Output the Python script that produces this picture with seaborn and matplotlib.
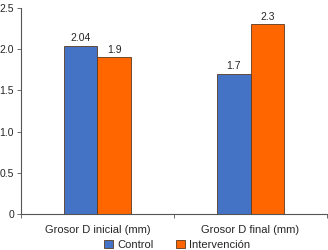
import matplotlib
matplotlib.use('Agg')
import matplotlib.pyplot as plt
import pandas as pd
import seaborn as sns

categories = ['Grosor D inicial (mm)', 'Grosor D final (mm)']
groups = ['Control', 'Intervención']
control = [2.04, 1.7]
intervencion = [1.9, 2.3]
value_labels = [['2.04', '1.7'], ['1.9', '2.3']]
yticks = [0, 0.5, 1.0, 1.5, 2.0, 2.5]
ytick_labels = ['0', '0.5', '1.0', '1.5', '2.0', '2.5']

df = pd.DataFrame({
    'categoria': categories * 2,
    'grupo': [groups[0]] * 2 + [groups[1]] * 2,
    'valor': control + intervencion,
})

sns.set_style('white')
plt.rcParams['font.family'] = ['Liberation Sans', 'DejaVu Sans']

fig = plt.figure(figsize=(3.28, 2.5), dpi=100)
ax = fig.add_axes([0.064, 0.144, 0.933, 0.824])

sns.barplot(data=df, x='categoria', y='valor', hue='grupo',
            palette=['#4472C4', '#FF6600'], width=0.44, saturation=1,
            edgecolor='#5a3a20', linewidth=0.6, ax=ax)

for cont, labels in zip(ax.containers, value_labels):
    ax.bar_label(cont, labels=labels, padding=2, fontsize=7.5)

ax.set_xlim(-0.5, 1.5)
ax.set_ylim(0, 2.5)
ax.set_yticks(yticks)
ax.set_yticklabels(ytick_labels, fontsize=7.5)
ax.set_xticks([0, 1])
ax.set_xticklabels(categories, fontsize=8)
ax.set_xlabel('')
ax.set_ylabel('')
ax.tick_params(axis='x', length=0, pad=8)
ax.tick_params(axis='y', length=3, width=0.6, color='#555555', pad=2, left=True)
# category separators on x axis
ax.set_xticks([-0.5, 0.5, 1.5], minor=True)
ax.tick_params(axis='x', which='minor', length=3, width=0.6, color='#555555', bottom=True)

for s in ['top', 'right']:
    ax.spines[s].set_visible(False)
for s in ['left', 'bottom']:
    ax.spines[s].set_linewidth(0.8)
    ax.spines[s].set_color('#555555')

ax.legend(loc='center', bbox_to_anchor=(0.51, -0.15), ncol=2, frameon=False,
          fontsize=8, handlelength=0.8, handleheight=0.8, handletextpad=0.4,
          columnspacing=2.0, borderaxespad=0, borderpad=0)

fig.savefig('out.png', dpi=100)
plt.close(fig)
